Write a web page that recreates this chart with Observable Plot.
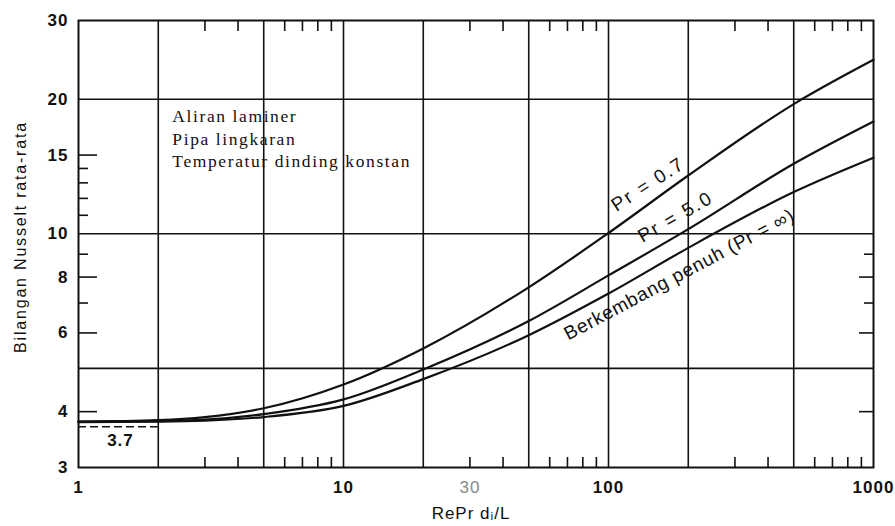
<!DOCTYPE html>
<html><head><meta charset="utf-8">
<script src="https://cdn.jsdelivr.net/npm/d3@7"></script>
<script src="https://cdn.jsdelivr.net/npm/@observablehq/plot@0.6"></script>
<style>
body{margin:0;background:#fff;}
</style>
</head><body><div id="chart"></div>
<script>
// ---- data ----
const xValues = [1, 2, 3, 5, 10, 20, 50, 100, 200, 500, 1000];
const nuPr07  = [3.80, 3.83, 3.89, 4.07, 4.60, 5.54, 7.59, 10.04, 13.5, 19.5, 24.5];
const nuPr50  = [3.80, 3.81, 3.84, 3.95, 4.26, 4.97, 6.38, 8.07, 10.24, 14.34, 17.83];
const nuFull  = [3.79, 3.80, 3.82, 3.89, 4.12, 4.73, 5.93, 7.35, 9.3, 12.4, 14.8];
const seriesNames = ["Pr = 0.7", "Pr = 5.0", "Berkembang penuh (Pr = ∞)"];

const xGrid = [2, 5, 10, 20, 50, 100, 200, 500];
const yGrid = [5, 10, 20];
const xMinorTicks = [3,4,6,7,8,9,30,40,60,70,80,90,300,400,600,700,800,900];
const yLeftLongTicks = [4, 6, 8, 15];
const yLeftShortTicks = [7, 9, 11, 12, 13, 14];
const yRightLongTicks = [4, 6, 8];
const yRightShortTicks = [7, 9];
const xTickLabels = [1, 10, 100, 1000];
const xFaintTickLabels = [30];
const yTickLabels = [3, 4, 6, 8, 10, 15, 20, 30];
const refLine = [{value: 3.7, from: 1, to: 2}];
const refLabel = [{x: 1.44, y: 3.45, text: "3.7"}];

const annotations = [
  {x: 2.26, y: 18.3, text: "Aliran laminer"},
  {x: 2.26, y: 16.3, text: "Pipa lingkaran"},
  {x: 2.26, y: 14.5, text: "Temperatur dinding konstan"}
];
const curveLabels = [
  {x: 141, y: 12.9, angle: -33, text: seriesNames[0]},
  {x: 179, y: 10.9, angle: -30, text: seriesNames[1]},
  {x: 185, y: 8.1, angle: -28, text: seriesNames[2]}
];
const xTitle = "RePr dᵢ/L";
const yTitle = "Bilangan Nusselt rata-rata";

const rows = [];
[nuPr07, nuPr50, nuFull].forEach((arr, i) =>
  arr.forEach((v, j) => rows.push({x: xValues[j], nu: v, series: seriesNames[i]})));

const ink = "#111";
const chart = Plot.plot({
  width: 895, height: 526,
  marginLeft: 78, marginRight: 22, marginTop: 20, marginBottom: 59,
  x: {type: "log", domain: [1, 1000], label: null},
  y: {type: "log", domain: [3, 30], label: null},
  style: {background: "white", fontFamily: "Liberation Sans, Arial, sans-serif", color: ink},
  marks: [
    Plot.ruleX(xGrid, {stroke: ink, strokeWidth: 1.6}),
    Plot.ruleY(yGrid, {stroke: ink, strokeWidth: 1.6}),
    Plot.ruleY(refLine, {y: "value", x1: "from", x2: "to", stroke: ink, strokeWidth: 1.6, strokeDasharray: "8,4"}),
    Plot.frame({stroke: ink, strokeWidth: 2}),
    // inward minor ticks
    Plot.axisX({anchor: "bottom", ticks: xMinorTicks, tickSize: 10, dy: -10, tickFormat: () => "", label: null, stroke: ink, strokeWidth: 1.6}),
    Plot.axisX({anchor: "top", ticks: xMinorTicks, tickSize: 10, dy: 10, tickFormat: () => "", label: null, stroke: ink, strokeWidth: 1.6}),
    Plot.axisY({anchor: "left", ticks: yLeftLongTicks, tickSize: 19, dx: 19, tickFormat: () => "", label: null, stroke: ink, strokeWidth: 1.6}),
    Plot.axisY({anchor: "left", ticks: yLeftShortTicks, tickSize: 10, dx: 10, tickFormat: () => "", label: null, stroke: ink, strokeWidth: 1.6}),
    Plot.axisY({anchor: "right", ticks: yRightLongTicks, tickSize: 15, dx: -15, tickFormat: () => "", label: null, stroke: ink, strokeWidth: 1.6}),
    Plot.axisY({anchor: "right", ticks: yRightShortTicks, tickSize: 10, dx: -10, tickFormat: () => "", label: null, stroke: ink, strokeWidth: 1.6}),
    // tick labels
    Plot.axisX({anchor: "bottom", ticks: xTickLabels, tickSize: 0, tickPadding: 13, tickFormat: d => String(d), label: null, fontSize: 17, fontWeight: "bold", fill: ink}),
    Plot.axisX({anchor: "bottom", ticks: xFaintTickLabels, tickSize: 0, tickPadding: 13, tickFormat: d => String(d), label: null, fontSize: 17, fill: "#888"}),
    Plot.axisY({anchor: "left", ticks: yTickLabels, tickSize: 0, tickPadding: 10, tickFormat: d => String(d), label: null, fontSize: 17, fontWeight: "bold", fill: ink}),
    // curves
    Plot.line(rows, {x: "x", y: "nu", z: "series", curve: "monotone-x", stroke: ink, strokeWidth: 2.2}),
    // texts
    Plot.text(annotations, {x: "x", y: "y", text: "text", textAnchor: "start", lineAnchor: "middle", fontFamily: "Liberation Serif, Times New Roman, serif", fontSize: 17.5, fill: ink}),
    Plot.text(curveLabels, {x: "x", y: "y", text: "text", rotate: "angle", fontSize: 19, fill: ink}),
    Plot.text(refLabel, {x: "x", y: "y", text: "text", fontSize: 17, fontWeight: "bold", fill: ink}),
    Plot.text([xTitle], {frameAnchor: "bottom", textAnchor: "middle", lineAnchor: "middle", dx: -5, dy: 46, fontSize: 17, fill: ink}),
    Plot.text([yTitle], {frameAnchor: "left", textAnchor: "middle", lineAnchor: "middle", dx: -58, dy: -7, rotate: -90, fontSize: 16, fill: ink})
  ]
});
// letter spacing to mimic the wide typeface of the original
const spacing = new Map([
  [seriesNames[0], "2px"], [seriesNames[1], "2px"], [seriesNames[2], "0.8px"],
  ["Aliran laminer", "1.6px"], ["Pipa lingkaran", "1.6px"], ["Temperatur dinding konstan", "1.6px"],
  [yTitle, "1.8px"], [xTitle, "1px"]
]);
d3.select(chart).selectAll("text").each(function() {
  const t = this.textContent;
  if (spacing.has(t)) this.style.letterSpacing = spacing.get(t);
  else if (/^[0-9.]+$/.test(t)) this.style.letterSpacing = "1px";
});
document.getElementById("chart").appendChild(chart);
</script>
</body></html>
